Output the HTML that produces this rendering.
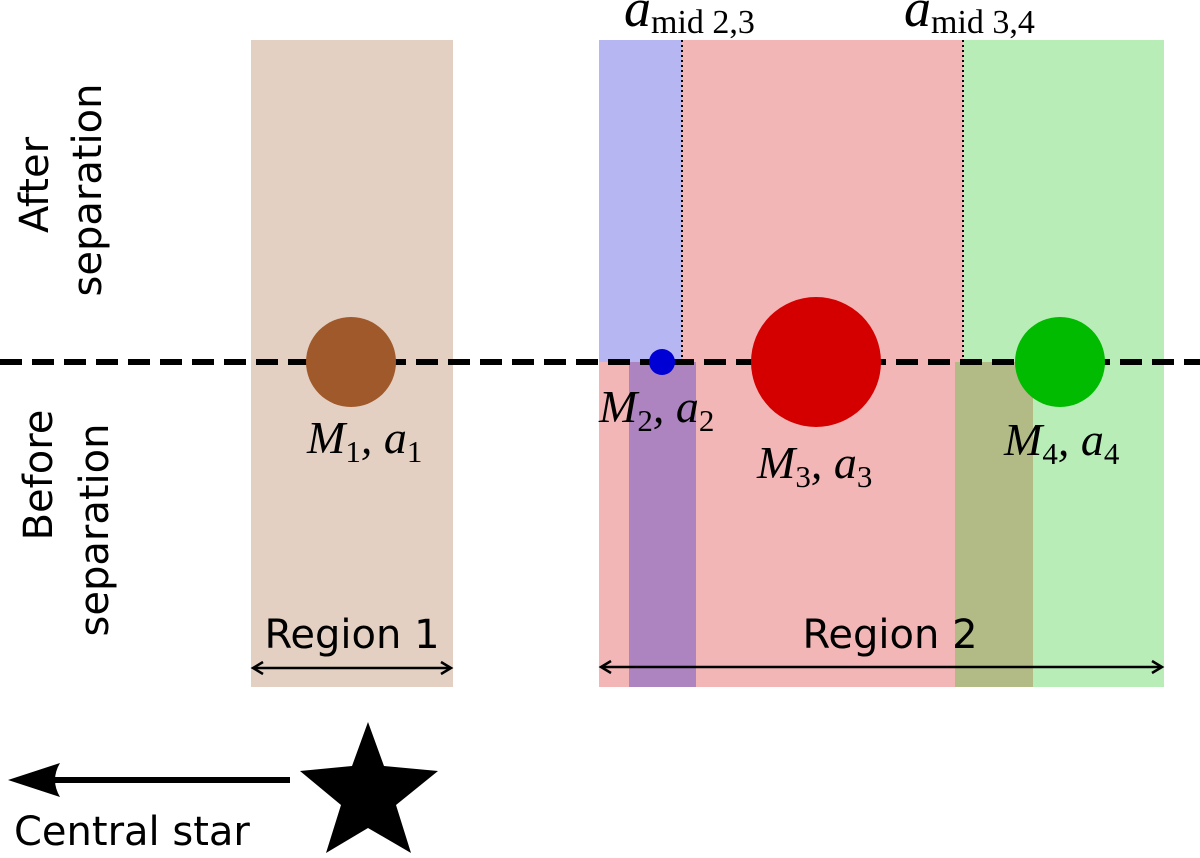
<!DOCTYPE html>
<html><head><meta charset="utf-8"><style>
html,body{margin:0;padding:0;background:#fff;}
svg{display:block;}
.m{font-family:"Liberation Serif",serif;font-style:italic;font-size:46px;}
.s{font-family:"Liberation Serif",serif;font-style:normal;font-size:31px;}
.t{font-family:"DejaVu Sans","Liberation Sans",sans-serif;font-size:40px;}
</style></head><body>
<svg width="1200" height="858" viewBox="0 0 1200 858" xmlns="http://www.w3.org/2000/svg">
<rect x="251" y="40" width="202" height="647" fill="#e4d0c3"/>
<rect x="599" y="40" width="83" height="322" fill="#b6b6f2"/>
<rect x="682" y="40" width="281" height="322" fill="#f3b6b6"/>
<rect x="963" y="40" width="201" height="322" fill="#b8edb8"/>
<rect x="599" y="362" width="356" height="325" fill="#f3b6b6"/>
<rect x="629" y="362" width="67" height="325" fill="#ae84c0"/>
<rect x="955" y="362" width="78" height="325" fill="#b2bb86"/>
<rect x="1033" y="362" width="131" height="325" fill="#b8edb8"/>
<line x1="682" y1="40" x2="682" y2="362" stroke="#000" stroke-width="2" stroke-dasharray="2,3"/>
<line x1="963" y1="40" x2="963" y2="362" stroke="#000" stroke-width="2" stroke-dasharray="2,3"/>
<line x1="0" y1="362" x2="1200" y2="362" stroke="#000" stroke-width="6" stroke-dasharray="22,10"/>
<circle cx="351" cy="362" r="45" fill="#a0592b"/>
<circle cx="662" cy="362" r="13" fill="#0000d4"/>
<circle cx="816" cy="362" r="65" fill="#d40000"/>
<circle cx="1060" cy="362" r="45" fill="#00bb00"/>
<text class="m" x="307" y="453">M<tspan class="s" dy="9">1</tspan><tspan dy="-9">, a</tspan><tspan class="s" dy="9">1</tspan></text>
<text class="m" x="599" y="422">M<tspan class="s" dy="9">2</tspan><tspan dy="-9">, a</tspan><tspan class="s" dy="9">2</tspan></text>
<text class="m" x="757" y="478">M<tspan class="s" dy="9">3</tspan><tspan dy="-9">, a</tspan><tspan class="s" dy="9">3</tspan></text>
<text class="m" x="1004" y="455">M<tspan class="s" dy="9">4</tspan><tspan dy="-9">, a</tspan><tspan class="s" dy="9">4</tspan></text>
<text class="m" x="624" y="26" style="font-size:54px">a<tspan class="s" dy="7" style="font-size:34px">mid 2,3</tspan></text>
<text class="m" x="904" y="26" style="font-size:54px">a<tspan class="s" dy="7" style="font-size:34px">mid 3,4</tspan></text>
<text class="t" x="352" y="648" text-anchor="middle">Region 1</text>
<text class="t" x="890" y="648" text-anchor="middle">Region 2</text>
<g stroke="#000" stroke-width="2.5" fill="none">
<line x1="253" y1="668" x2="451" y2="668"/>
<polyline points="263,662 253,668 263,674"/>
<polyline points="441,662 451,668 441,674"/>
<line x1="601" y1="667" x2="1162" y2="667"/>
<polyline points="611,661 601,667 611,673"/>
<polyline points="1152,661 1162,667 1152,673"/>
</g>
<text class="t" transform="translate(48,185) rotate(-90)" text-anchor="middle">After</text>
<text class="t" transform="translate(101,190) rotate(-90)" text-anchor="middle">separation</text>
<text class="t" transform="translate(52,475) rotate(-90)" text-anchor="middle">Before</text>
<text class="t" transform="translate(108,530) rotate(-90)" text-anchor="middle">separation</text>
<line x1="290" y1="780" x2="50" y2="780" stroke="#000" stroke-width="6"/>
<path d="M8,780 L60,763 Q50,780 60,797 Z" fill="#000"/>
<text class="t" x="14" y="845">Central star</text>
<polygon fill="#000" points="368,722 384,766 438,771 396,805 411,853 368,828 326,853 341,805 300,771 352,766"/>
</svg>
</body></html>
